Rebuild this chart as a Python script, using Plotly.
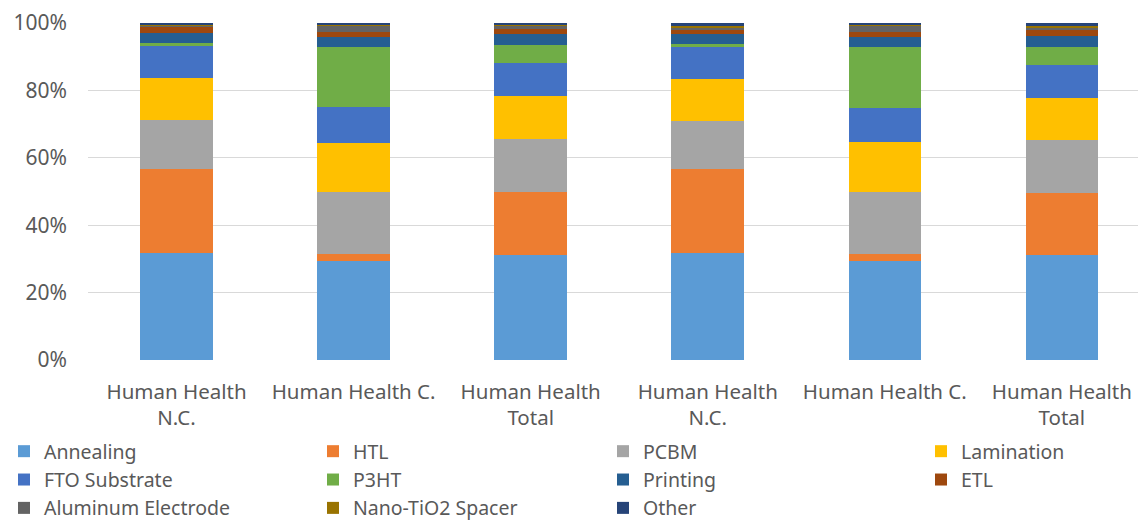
import plotly.graph_objects as go

# Impact categories (two groups of three bars)
categories = ["Human Health<br>N.C.", "Human Health C.", "Human Health<br>Total",
              "Human Health<br>N.C.", "Human Health C.", "Human Health<br>Total"]

# Contribution of each process step (%), per bar
annealing = [31.7, 29.4, 31.2, 31.8, 29.3, 31.1]
htl       = [24.6, 2.2, 18.6, 24.7, 2.2, 18.4]
pcbm      = [14.5, 18.4, 15.7, 14.3, 18.3, 15.5]
lamination= [12.5, 14.5, 12.8, 12.4, 14.6, 12.6]
fto       = [9.4, 10.5, 9.7, 9.4, 10.2, 9.8]
p3ht      = [0.9, 17.8, 5.5, 0.8, 17.9, 5.2]
printing  = [2.9, 3.0, 3.2, 3.1, 3.0, 3.3]
etl       = [1.6, 1.5, 1.4, 1.4, 1.5, 1.6]
aluminum  = [0.6, 1.9, 1.0, 0.5, 1.9, 0.6]
nano_tio2 = [0.1, 0.1, 0.1, 0.5, 0.1, 0.6]
other     = [0.6, 0.7, 0.7, 0.8, 0.7, 1.0]

series = [
    ("Annealing", annealing, "#5B9BD5"),
    ("HTL", htl, "#ED7D31"),
    ("PCBM", pcbm, "#A5A5A5"),
    ("Lamination", lamination, "#FFC000"),
    ("FTO Substrate", fto, "#4472C4"),
    ("P3HT", p3ht, "#70AD47"),
    ("Printing", printing, "#255E91"),
    ("ETL", etl, "#9E480E"),
    ("Aluminum Electrode", aluminum, "#636363"),
    ("Nano-TiO2 Spacer", nano_tio2, "#997300"),
    ("Other", other, "#264478"),
]

FONT = "Noto Sans"
TXT = "#595959"
W, H = 1138, 520
ML, MT, MB = 88, 23, 160

x = list(range(len(categories)))
fig = go.Figure()
legend_names = ["legend", "legend2", "legend3", "legend4"]
for i, (name, vals, col) in enumerate(series):
    fig.add_trace(go.Bar(
        x=x, y=vals, name=name,
        marker=dict(color=col, line=dict(width=0)),
        legend=legend_names[i % 4],
    ))

plot_h = H - MT - MB
legend_top = -(432 - (H - MB)) / plot_h
col_x = [4, 313, 603, 921]
legend_common = dict(
    orientation="v", yanchor="top", xanchor="left", y=legend_top,
    font=dict(family=FONT, size=19.5, color=TXT),
    bgcolor="rgba(0,0,0,0)", itemwidth=30, tracegroupgap=0,
    traceorder="normal",
)
legend_layout = {}
for k, ln in enumerate(legend_names):
    d = dict(legend_common)
    d["x"] = (col_x[k] - ML) / (W - ML)
    legend_layout[ln] = d

fig.update_layout(
    width=W, height=H,
    margin=dict(l=ML, r=0, t=MT, b=MB, autoexpand=False),
    barmode="stack", barnorm="percent", bargap=0.59,
    plot_bgcolor="white", paper_bgcolor="white",
    font=dict(family=FONT, size=19, color=TXT),
    showlegend=True,
    xaxis=dict(
        tickvals=x, ticktext=categories, range=[-0.5, 5.43],
        showgrid=False, zeroline=False, showline=False, ticks="",
        tickfont=dict(family=FONT, size=20.5, color=TXT),
        ticklabelstandoff=17,
    ),
    yaxis=dict(
        range=[0, 100], dtick=20, ticksuffix="%",
        showgrid=True, gridcolor="#D9D9D9", gridwidth=1,
        zeroline=False, showline=False, ticks="",
        tickfont=dict(family=FONT, size=21, color=TXT),
        ticklabelstandoff=20,
    ),
    **legend_layout,
)

fig.write_html("out.html")
